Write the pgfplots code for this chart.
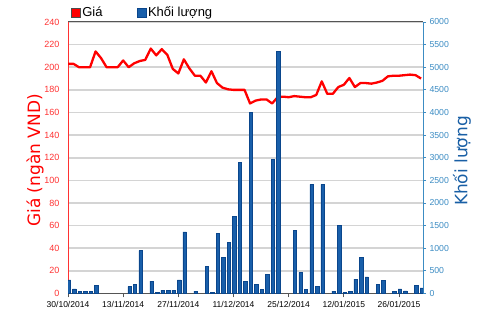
\documentclass[border=0pt]{standalone}
\usepackage{fontspec}
\setmainfont{Liberation Sans}
\newfontfamily\labelfont{DejaVu Sans}
\usepackage{pgfplots}
\usepackage{pgfplotstable}
\pgfplotsset{compat=1.18}
\definecolor{priceRed}{RGB}{255,0,0}
\definecolor{axisRed}{RGB}{255,50,50}
\definecolor{volBlue}{RGB}{25,95,170}
\definecolor{volEdge}{RGB}{10,70,140}
\definecolor{rightBlue}{RGB}{60,140,195}
\definecolor{labBlue}{RGB}{25,95,165}
\definecolor{gridGray}{RGB}{212,212,212}
\definecolor{frameGray}{RGB}{85,85,85}

\pgfplotstableread{
x price
0 203
1 203
2 200
3 200
4 200
5 214
6 208
7 200
8 200
9 200
10 206
11 200
12 203.5
13 205.5
14 206.5
15 216.5
16 210.5
17 216
18 211
19 198.5
20 194.5
21 207
22 199
23 192.5
24 192.5
25 186.5
26 196.5
27 186
28 182
29 180.5
30 180
31 180
32 180
33 168
34 170.5
35 171.5
36 171.5
37 168
38 173.5
39 174
40 173.5
41 174.5
42 174
43 173.5
44 173.5
45 175.5
46 187.5
47 176.5
48 176.5
49 182.5
50 184.5
51 190.5
52 182.5
53 186
54 186
55 185.5
56 186.5
57 188
58 192
59 192.5
60 192.5
61 193
62 193.5
63 193
64 190
}\pricetable

\pgfplotstableread{
x vol
0 300
1 100
2 50
3 50
4 50
5 175
11 150
12 200
13 950
15 275
16 25
17 75
18 75
19 75
20 300
21 1360
23 50
25 600
26 25
27 1325
28 800
29 1130
30 1710
31 2890
32 275
33 4010
34 205
35 96
36 420
37 2966
38 5350
41 1400
42 465
43 85
44 2410
45 155
46 2410
48 55
49 1510
50 20
51 50
52 318
53 800
54 370
56 199
57 295
59 52
60 103
61 59
63 177
64 125
}\voltable

\begin{document}
\begin{tikzpicture}
\path (0pt,0pt) rectangle (500pt,312pt);
\begin{axis}[
  name=pax,
  at={(68pt,18.5pt)}, anchor=origin,
  scale only axis, width=355pt, height=271.5pt,
  xmin=0, xmax=64.35, ymin=0, ymax=240,
  axis x line*=box, axis y line*=left,
  x axis line style={frameGray, line width=1pt},
  y axis line style={axisRed, line width=1pt},
  xtick={0,10,...,60},
  xticklabels={30/10/2014,13/11/2014,27/11/2014,11/12/2014,25/12/2014,12/01/2015,26/01/2015},
  xtick pos=left,
  x tick style={frameGray, line width=0.8pt},
  tick align=outside, major tick length=4pt,
  xticklabel style={black, font=\fontsize{8.5}{9}\selectfont},
  ytick={0,20,...,240},
  y tick style={draw=none},
  yticklabel style={axisRed, font=\fontsize{9}{9}\selectfont, xshift=-1pt},
  ymajorgrids, grid style={gridGray, line width=1.6pt},
  /pgf/number format/assume math mode=true,
  ylabel={Giá (ngàn VND)},
  ylabel style={at={(axis description cs:-0.093,0.49)}, anchor=center,
    font=\labelfont\fontsize{17}{17}\selectfont, priceRed},
]
\addplot[priceRed, line width=2.3pt, line join=round, no marks] table[x=x,y=price]{\pricetable};
\end{axis}
\begin{axis}[
  at={(pax.origin)}, anchor=origin,
  scale only axis, width=355pt, height=271.5pt,
  xmin=0, xmax=64.35, ymin=0, ymax=6000,
  axis x line=none, axis y line*=right,
  y axis line style={rightBlue, line width=1pt},
  ytick={0,500,...,6000},
  y tick style={rightBlue, line width=0.8pt},
  tick align=outside, major tick length=3pt,
  yticklabel style={rightBlue, font=\fontsize{8.7}{9}\selectfont},
  /pgf/number format/1000 sep={},
  /pgf/number format/assume math mode=true,
  ylabel={Khối lượng},
  ylabel style={at={(axis description cs:1.11,0.488)}, anchor=center,
    font=\labelfont\fontsize{17}{17}\selectfont, labBlue},
  legend style={at={(axis description cs:0,1)}, anchor=south west,
    xshift=3pt, yshift=2pt, draw=none, fill=none, legend columns=2,
    inner sep=0pt, font=\fontsize{13}{13}\selectfont,
    nodes={inner sep=1.5pt},
    /tikz/every even column/.append style={column sep=33pt}},
  legend image code/.code={\draw[#1] (0pt,-4.5pt) rectangle (9pt,4.5pt);},
]
\addlegendimage{fill=priceRed, draw=black!70, line width=0.6pt}
\addlegendentry{Giá}
\addplot[ybar, bar width=3.4pt, bar shift=0.8pt, fill=volBlue, draw=volEdge, line width=0.5pt] table[x=x,y=vol]{\voltable};
\addlegendentry{Khối lượng}
\end{axis}
\end{tikzpicture}
\end{document}
